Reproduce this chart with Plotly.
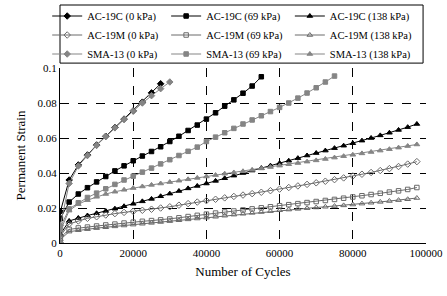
import plotly.graph_objects as go

CYCLES = [0, 100, 2500, 5000, 7500, 10000, 12500, 15000, 17500, 20000, 22500,
          25000, 27500, 30000, 32500, 35000, 37500, 40000, 42500, 45000, 47500,
          50000, 52500, 55000, 57500, 60000, 62500, 65000, 67500, 70000, 72500,
          75000, 77500, 80000, 82500, 85000, 87500, 90000, 92500, 95000, 97500]

AC19C_0 = [0, 0.018, 0.036, 0.0446, 0.0503, 0.056, 0.061, 0.066, 0.0708, 0.0755,
           0.0805, 0.0858, 0.091]
AC19C_69 = [0, 0.014, 0.0234, 0.028, 0.0316, 0.0349, 0.038, 0.0412, 0.0441, 0.047,
            0.0497, 0.0523, 0.055, 0.058, 0.061, 0.0643, 0.0674, 0.0708, 0.0744,
            0.0782, 0.0818, 0.0856, 0.0897, 0.095]
AC19C_138 = [0, 0.005, 0.0126, 0.0143, 0.0157, 0.017, 0.0183, 0.0196, 0.021, 0.0224,
             0.0238, 0.0252, 0.0267, 0.0282, 0.0297, 0.0312, 0.0326, 0.034, 0.0355,
             0.037, 0.0385, 0.04, 0.0414, 0.0428, 0.0442, 0.0456, 0.047, 0.0485,
             0.05, 0.0514, 0.0528, 0.0542, 0.0556, 0.057, 0.0585, 0.06, 0.0615,
             0.063, 0.0646, 0.0662, 0.068]
AC19M_0 = [0, 0.004, 0.0109, 0.0126, 0.0141, 0.015, 0.016, 0.0168, 0.0175, 0.0181,
           0.0187, 0.0193, 0.02, 0.0207, 0.0216, 0.0225, 0.0234, 0.0242, 0.025,
           0.0258, 0.0266, 0.0274, 0.0282, 0.029, 0.0299, 0.0308, 0.0317, 0.0326,
           0.0335, 0.0344, 0.0353, 0.0362, 0.0372, 0.0383, 0.0393, 0.0403, 0.0414,
           0.0425, 0.0437, 0.0451, 0.0465]
AC19M_69 = [0, 0.003, 0.0078, 0.0086, 0.0091, 0.0097, 0.0103, 0.0108, 0.0114, 0.0119,
            0.0124, 0.0128, 0.0132, 0.0137, 0.0144, 0.0151, 0.0158, 0.0165, 0.0171,
            0.0177, 0.0183, 0.0189, 0.0195, 0.0201, 0.0207, 0.0213, 0.0219, 0.0225,
            0.0231, 0.0237, 0.0243, 0.0249, 0.0256, 0.0263, 0.027, 0.0277, 0.0284,
            0.0291, 0.0298, 0.0306, 0.0317]
AC19M_138 = [0, 0.002, 0.0065, 0.0073, 0.0079, 0.0085, 0.009, 0.0095, 0.01, 0.0105,
             0.011, 0.0115, 0.012, 0.0125, 0.013, 0.0135, 0.014, 0.0145, 0.015,
             0.0156, 0.0162, 0.0167, 0.0172, 0.0177, 0.0182, 0.0187, 0.0191, 0.0195,
             0.0199, 0.0203, 0.0207, 0.0211, 0.0215, 0.022, 0.0225, 0.023, 0.0235,
             0.024, 0.0245, 0.025, 0.0257]
SMA13_0 = [0, 0.010, 0.034, 0.044, 0.050, 0.0558, 0.0608, 0.0658, 0.0706, 0.0754,
           0.080, 0.0842, 0.0882, 0.092]
SMA13_69 = [0, 0.009, 0.0195, 0.023, 0.026, 0.0285, 0.031, 0.0335, 0.036, 0.0382,
            0.0405, 0.0428, 0.0452, 0.0476, 0.050, 0.0524, 0.0548, 0.058, 0.0605,
            0.063, 0.0655, 0.068, 0.0703, 0.0727, 0.0751, 0.0775, 0.080, 0.0828,
            0.0857, 0.0887, 0.092, 0.0954]
SMA13_138 = [0, 0.007, 0.0185, 0.0222, 0.0245, 0.0264, 0.028, 0.0293, 0.0304, 0.0314,
             0.0323, 0.0332, 0.034, 0.0348, 0.0356, 0.0364, 0.0372, 0.038, 0.0388,
             0.0396, 0.0403, 0.041, 0.0418, 0.0426, 0.0434, 0.0442, 0.045, 0.0457,
             0.0465, 0.0472, 0.048, 0.0488, 0.0496, 0.0504, 0.0512, 0.052, 0.0528,
             0.0536, 0.0545, 0.0554, 0.0563]

X_TICKS = [0, 20000, 40000, 60000, 80000, 100000]
Y_TICKS = [0, 0.02, 0.04, 0.06, 0.08, 0.1]
Y_TICK_LABELS = ["0", "0.02", "0.04", "0.06", "0.08", "0.1"]

BLACK = "#000000"
GRAY = "#858585"
MGRAY = "#6a6a6a"

# name, data, line colour, marker symbol, legend column
series = [
    ("AC-19C (0 kPa)", AC19C_0, BLACK, "diamond", "legend"),
    ("AC-19C (69 kPa)", AC19C_69, BLACK, "square", "legend2"),
    ("AC-19C (138 kPa)", AC19C_138, BLACK, "triangle-up", "legend3"),
    ("AC-19M (0 kPa)", AC19M_0, MGRAY, "diamond-open", "legend"),
    ("AC-19M (69 kPa)", AC19M_69, MGRAY, "square-open", "legend2"),
    ("AC-19M (138 kPa)", AC19M_138, MGRAY, "triangle-up-open", "legend3"),
    ("SMA-13 (0 kPa)", SMA13_0, GRAY, "diamond", "legend"),
    ("SMA-13 (69 kPa)", SMA13_69, GRAY, "square", "legend2"),
    ("SMA-13 (138 kPa)", SMA13_138, GRAY, "triangle-up", "legend3"),
]

fig = go.Figure()
for name, ys, color, sym, leg in series:
    size = 4.5 if "square" in sym else 5
    fig.add_trace(go.Scatter(
        x=CYCLES[:len(ys)], y=ys, name=name, mode="lines+markers",
        line=dict(color=color, width=1),
        marker=dict(symbol=sym, size=size, color=color,
                    line=dict(color=color, width=1)),
        legend=leg,
    ))

FAM = "Liberation Serif"
font = dict(family=FAM, size=11, color="black")
LEG_Y = 1.38


def leg(xpos):
    return dict(
        orientation="v", x=xpos, xanchor="left", y=LEG_Y, yanchor="top",
        itemwidth=30, bgcolor="rgba(0,0,0,0)", borderwidth=0,
        font=dict(family=FAM, size=10.5, color="black"),
        tracegroupgap=0, traceorder="normal",
    )


fig.update_layout(
    width=447, height=296,
    margin=dict(l=60, r=21, t=68, b=53, autoexpand=False),
    paper_bgcolor="white", plot_bgcolor="white",
    font=font,
    showlegend=True,
    legend=leg(-0.035),
    legend2=leg(0.29),
    legend3=leg(0.628),
    shapes=[dict(type="rect", xref="paper", yref="paper",
                 x0=0, x1=0.992, y0=1.028, y1=1.36,
                 line=dict(color="black", width=1), fillcolor="rgba(0,0,0,0)",
                 layer="below")],
    xaxis=dict(
        range=[0, 100000], tickvals=X_TICKS, ticktext=[str(v) for v in X_TICKS],
        showgrid=True, gridcolor="black", griddash="dash", gridwidth=1,
        showline=True, linecolor="black", linewidth=1, zeroline=False,
        ticks="", title=dict(text="Number of Cycles", standoff=8),
        tickfont=dict(family=FAM, size=11),
    ),
    yaxis=dict(
        range=[0, 0.1], tickvals=Y_TICKS, ticktext=Y_TICK_LABELS,
        showgrid=True, gridcolor="black", griddash="dash", gridwidth=1,
        showline=True, linecolor="black", linewidth=1, zeroline=False,
        ticks="", title=dict(text="Permanent Strain", standoff=8),
        tickfont=dict(family=FAM, size=11),
    ),
)

fig.write_html("out.html", config={"displayModeBar": False},
               post_script="document.body.style.margin='0';")
